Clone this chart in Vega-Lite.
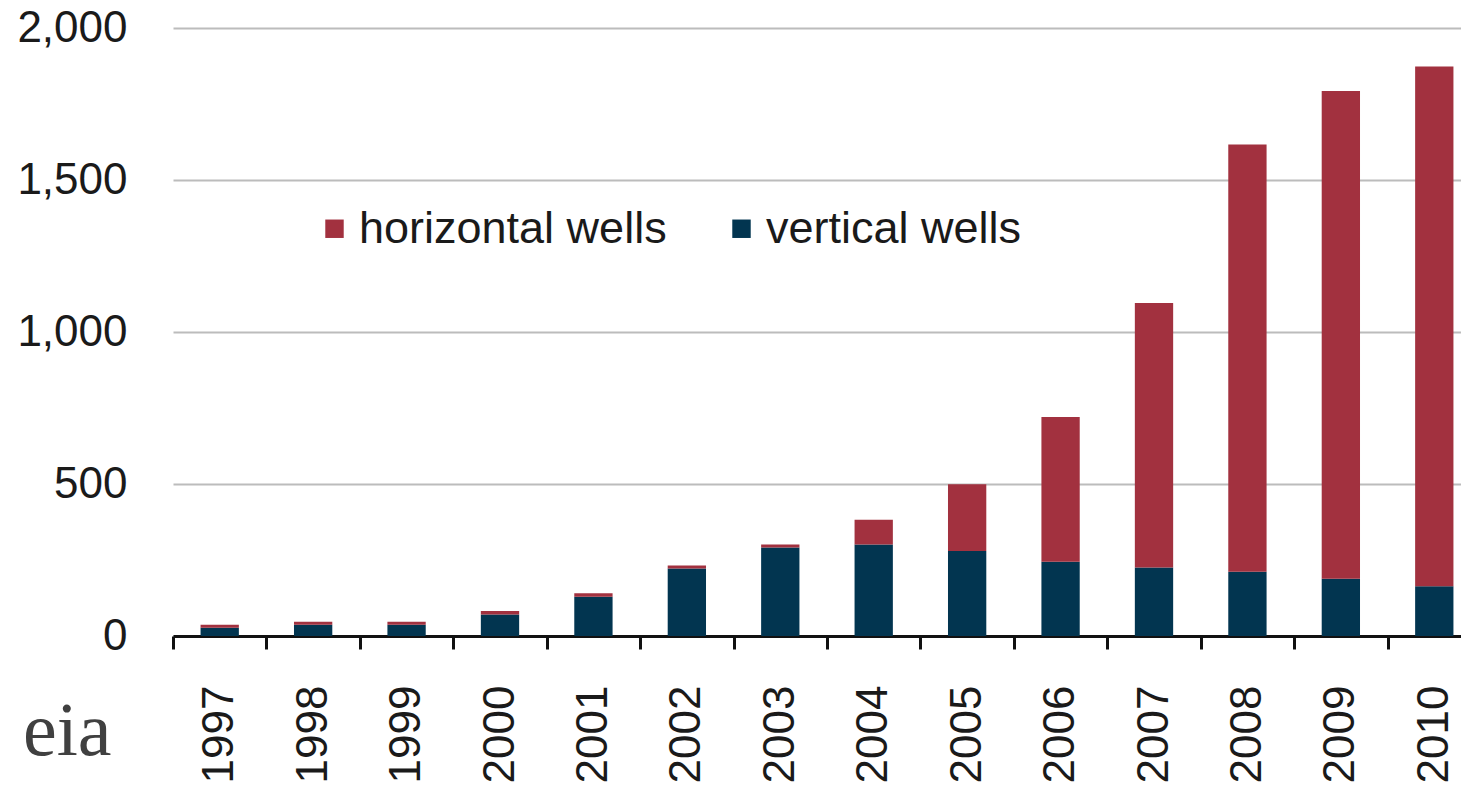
{
  "$schema": "https://vega.github.io/schema/vega-lite/v6.json",
  "width": 1288,
  "height": 608,
  "autosize": {"type": "none"},
  "padding": {"left": 173, "top": 28, "right": 0, "bottom": 150},
  "background": "white",
  "config": {
    "view": {"stroke": null},
    "font": "Liberation Sans"
  },
  "title": {
    "text": "eia",
    "orient": "bottom",
    "anchor": "start",
    "frame": "group",
    "dx": -150,
    "offset": -88,
    "font": "Liberation Serif",
    "fontSize": 76,
    "fontWeight": "normal",
    "color": "#404040"
  },
  "data": {
    "values": [
      {"year": "1997", "type": "vertical wells", "wells": 27},
      {"year": "1997", "type": "horizontal wells", "wells": 10},
      {"year": "1998", "type": "vertical wells", "wells": 37},
      {"year": "1998", "type": "horizontal wells", "wells": 10},
      {"year": "1999", "type": "vertical wells", "wells": 37},
      {"year": "1999", "type": "horizontal wells", "wells": 10},
      {"year": "2000", "type": "vertical wells", "wells": 71},
      {"year": "2000", "type": "horizontal wells", "wells": 11},
      {"year": "2001", "type": "vertical wells", "wells": 129},
      {"year": "2001", "type": "horizontal wells", "wells": 12},
      {"year": "2002", "type": "vertical wells", "wells": 222},
      {"year": "2002", "type": "horizontal wells", "wells": 10},
      {"year": "2003", "type": "vertical wells", "wells": 291},
      {"year": "2003", "type": "horizontal wells", "wells": 10},
      {"year": "2004", "type": "vertical wells", "wells": 301},
      {"year": "2004", "type": "horizontal wells", "wells": 81},
      {"year": "2005", "type": "vertical wells", "wells": 280},
      {"year": "2005", "type": "horizontal wells", "wells": 219},
      {"year": "2006", "type": "vertical wells", "wells": 244},
      {"year": "2006", "type": "horizontal wells", "wells": 476},
      {"year": "2007", "type": "vertical wells", "wells": 225},
      {"year": "2007", "type": "horizontal wells", "wells": 870},
      {"year": "2008", "type": "vertical wells", "wells": 211},
      {"year": "2008", "type": "horizontal wells", "wells": 1406},
      {"year": "2009", "type": "vertical wells", "wells": 188},
      {"year": "2009", "type": "horizontal wells", "wells": 1605},
      {"year": "2010", "type": "vertical wells", "wells": 164},
      {"year": "2010", "type": "horizontal wells", "wells": 1709}
    ]
  },
  "mark": {"type": "bar", "width": {"band": 0.41}},
  "encoding": {
    "x": {
      "field": "year",
      "type": "ordinal",
      "scale": {"type": "band", "range": [0, 1308], "paddingInner": 0, "paddingOuter": 0},
      "axis": {
        "title": null,
        "labelAngle": -90,
        "labelAlign": "right",
        "labelBaseline": "middle",
        "labelFontSize": 44,
        "labelColor": "#1a1a1a",
        "labelPadding": 36,
        "domainColor": "#111111",
        "domainWidth": 3,
        "tickColor": "#111111",
        "tickWidth": 3,
        "tickSize": 13,
        "tickBand": "extent",
        "grid": false
      }
    },
    "y": {
      "field": "wells",
      "type": "quantitative",
      "stack": "zero",
      "scale": {"domain": [0, 2000], "nice": false},
      "axis": {
        "title": null,
        "values": [0, 500, 1000, 1500, 2000],
        "format": ",d",
        "labelFontSize": 44,
        "labelColor": "#1a1a1a",
        "labelPadding": 46,
        "ticks": false,
        "tickSize": 0,
        "domain": false,
        "grid": true,
        "gridColor": "#bcbcbc",
        "gridWidth": 2
      }
    },
    "color": {
      "field": "type",
      "type": "nominal",
      "scale": {
        "domain": ["horizontal wells", "vertical wells"],
        "range": ["#a2313f", "#023550"]
      },
      "legend": {
        "title": null,
        "orient": "none",
        "direction": "horizontal",
        "legendX": 139,
        "legendY": 178,
        "symbolType": "square",
        "symbolSize": 340,
        "symbolStrokeWidth": 0,
        "labelFontSize": 45,
        "labelColor": "#1a1a1a",
        "labelOffset": 2,
        "columnPadding": 52,
        "labelLimit": 600,
        "padding": 0
      }
    },
    "order": {"field": "type", "sort": "descending"}
  }
}
